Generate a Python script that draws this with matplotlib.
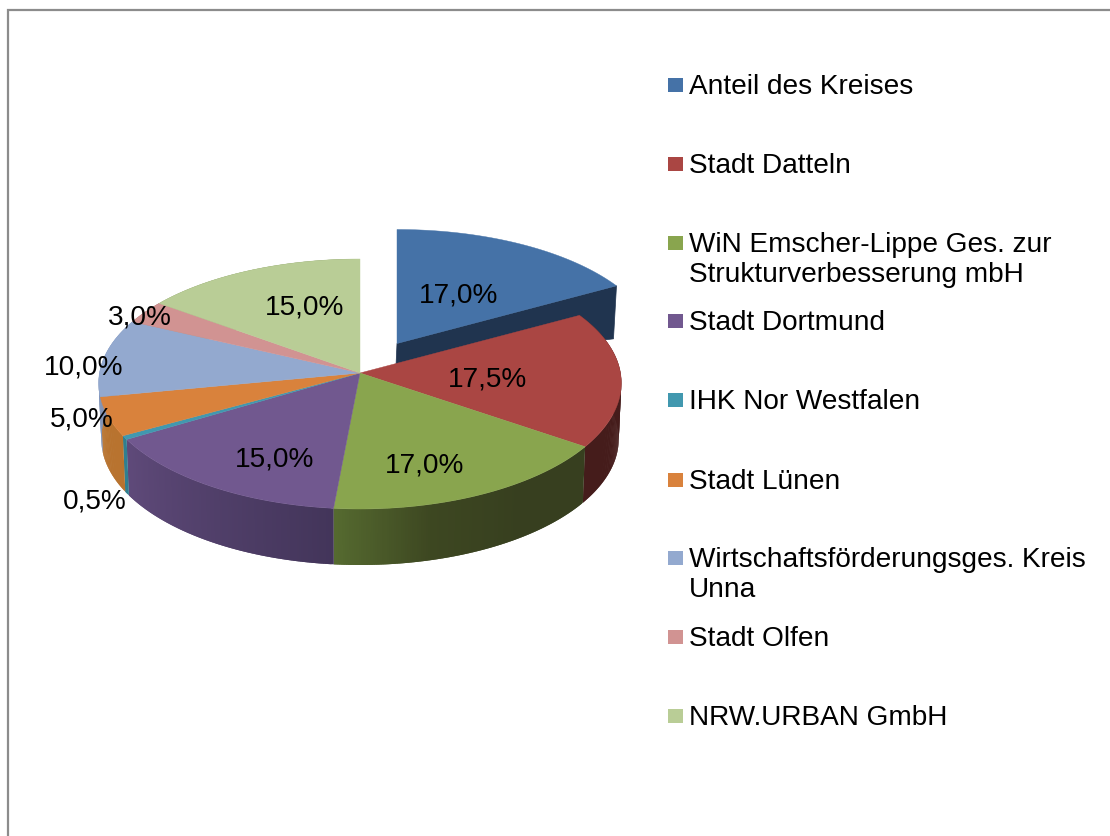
import numpy as np
import matplotlib
matplotlib.use("Agg")
import matplotlib.pyplot as plt
from matplotlib.patches import Rectangle
from matplotlib.colors import to_rgb

plt.rcParams['font.family'] = ['Liberation Sans', 'DejaVu Sans']

# data
names = ["Anteil des Kreises", "Stadt Datteln",
         "WiN Emscher-Lippe Ges. zur\nStrukturverbesserung mbH", "Stadt Dortmund",
         "IHK Nor Westfalen", "Stadt Lünen",
         "Wirtschaftsförderungsges. Kreis\nUnna", "Stadt Olfen", "NRW.URBAN GmbH"]
shares = [17.0, 17.5, 17.0, 15.0, 0.5, 5.0, 10.0, 3.0, 15.0]

# colours
top_colors = ["#4572A7", "#AA4643", "#89A54E", "#71588F", "#4198AF",
              "#D9823C", "#93A9CF", "#D19392", "#B9CD96"]
# side shading, first colour at the start of the slice, going clockwise
side_colors = [["#20344F", "#20344F"], ["#451C1B", "#451C1B"],
               ["#373F1F", "#373F1F", "#3D4721", "#566B30"], ["#43355A", "#5F4A7A"],
               ["#2F7F90", "#2F7F90"], ["#B8732F", "#B8732F"],
               ["#8296BC", "#8296BC"], ["#9A6C6B", "#9A6C6B"], ["#8A9A6E", "#8A9A6E"]]

label_pos = [(459, 295), (488, 380), (425, 465), (275, 459), (95, 501),
             (82, 420), (84, 368), (140, 317), (305, 308)]
legend_y = [87, 166, 261, 323, 402, 482, 576, 639, 718]

# pie geometry in pixels
cx, cy = 360, 373
depth = 56
explode = (37, -29.5)


def rim(theta):
    # slight perspective, the back of the pie is narrower than the front
    c = np.cos(theta)
    x = cx + 260.5 * np.sin(theta) * (1 - 0.08 * c)
    y = cy - 125 * c + 11 * c ** 2
    return x, y


def lower(x, y):
    return cx + (x - cx) * 0.99, y + depth


fig = plt.figure(figsize=(11.1, 8.36), dpi=100)
ax = fig.add_axes([0, 0, 1, 1])
ax.set_xlim(0, 1110)
ax.set_ylim(836, 0)
ax.axis("off")

# outer frame
ax.plot([8, 8, 1110], [836, 10, 10], color="#8C8C8C", lw=1.6, solid_joinstyle="miter")

edges = np.cumsum([0] + shares) / 100 * 2 * np.pi

# exploded slice, only the cut face shows
dx, dy = explode
end_x, end_y = rim(edges[1])
ax.fill([cx + dx, end_x + dx, end_x + dx - 3, cx + dx - 1],
        [cy + dy, end_y + dy, end_y + dy + 53, cy + dy + 22],
        color=side_colors[0][0], lw=0.5, zorder=2)
t = np.linspace(edges[0], edges[1], 60)
x, y = rim(t)
ax.fill(np.r_[cx, x] + dx, np.r_[cy, y] + dy, color=top_colors[0], lw=0.3, zorder=3)

# side walls of the other slices, drawn in small strips for the shading
for i in range(1, len(shares)):
    n = max(int((edges[i + 1] - edges[i]) * 120), 2)
    t = np.linspace(edges[i], edges[i + 1], n + 1)
    stops = np.array([to_rgb(c) for c in side_colors[i]])
    pos = np.linspace(0, 1, len(stops))
    for j in range(n):
        # each strip reaches over the next one so no seams show
        x, y = rim(t[j:j + 3])
        bx, by = lower(x, y)
        col = [np.interp(j / n, pos, stops[:, k]) for k in range(3)]
        ax.fill(np.r_[x, bx[::-1]], np.r_[y, by[::-1]], color=col, lw=0, zorder=4)

# top faces
for i in range(1, len(shares)):
    t = np.linspace(edges[i], edges[i + 1], 80)
    x, y = rim(t)
    ax.fill(np.r_[cx, x], np.r_[cy, y], color=top_colors[i], lw=0.3, zorder=5)

# value labels
for v, (lx, ly) in zip(shares, label_pos):
    ax.text(lx, ly, f"{v:.1f}%".replace(".", ","), fontsize=20.2, color="black",
            ha="center", va="center", zorder=6)

# legend, the box sits next to the first line of a wrapped name
for name, col, ly in zip(names, top_colors, legend_y):
    box_y = ly - 25 if "\n" in name else ly - 9
    ax.add_patch(Rectangle((668, box_y), 15, 14, color=col, lw=0))
    ax.text(689, ly - 1 if "\n" in name else ly, name, fontsize=20.2, color="black",
            ha="left", va="center", linespacing=1.24)

fig.savefig("out.png", dpi=100)
